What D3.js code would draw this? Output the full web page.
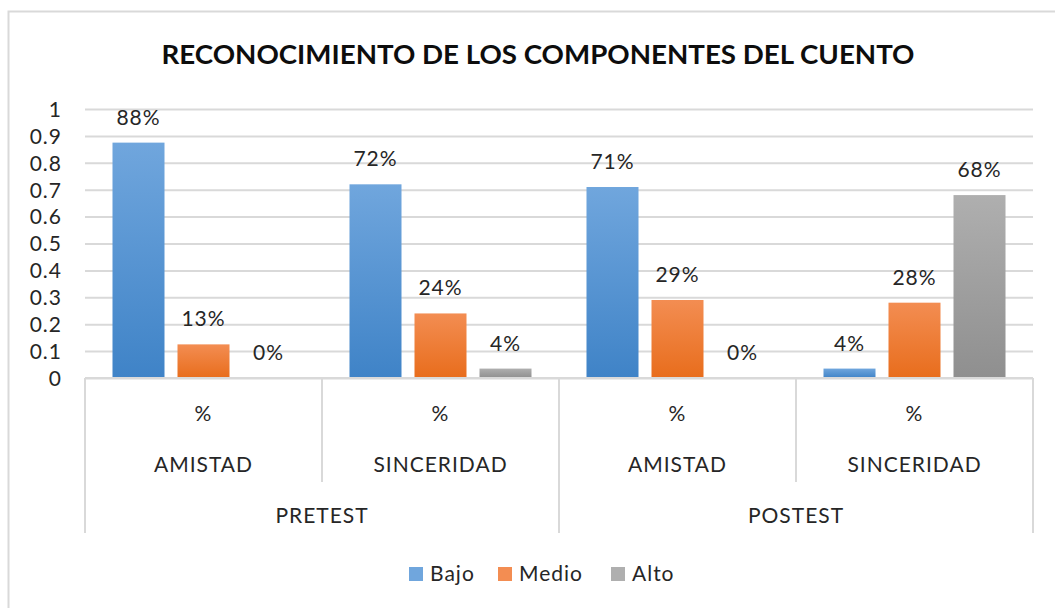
<!DOCTYPE html>
<html><head><meta charset="utf-8">
<script src="https://cdn.jsdelivr.net/npm/d3@7"></script>
<style>
body{margin:0;background:#fff;}
text{font-family:Lato,"Open Sans",sans-serif;fill:#262626;}
</style></head>
<body><svg id="c" width="1055" height="608"></svg>
<script>
const title = "RECONOCIMIENTO DE LOS COMPONENTES DEL CUENTO";
const phases = ["PRETEST","POSTEST"];
const components = ["AMISTAD","SINCERIDAD","AMISTAD","SINCERIDAD"];
const groupPhase = [0,0,1,1];
const unitLabel = "%";
const seriesNames = ["Bajo","Medio","Alto"];
const bajo  = [0.875, 0.72, 0.71, 0.035];
const medio = [0.125, 0.24, 0.29, 0.28];
const alto  = [0.0, 0.035, 0.0, 0.68];
const yTicks = [0,0.1,0.2,0.3,0.4,0.5,0.6,0.7,0.8,0.9,1];
const colors = [["#70a6dd","#3f83c7"],["#f38d52","#e86d1c"],["#afafaf","#8f8f8f"]];

const svg = d3.select("#c");
const L = 85, R = 1033, T = 109, B = 378;
const series = [bajo, medio, alto];
const groups = d3.range(components.length);
const FS = "21px", LS = "1px";

// frame
svg.append("rect").attr("x",8.5).attr("y",11.5).attr("width",1100).attr("height",700)
  .attr("fill","none").attr("stroke","#d9d9d9").attr("stroke-width",2);

svg.append("text").attr("x",538).attr("y",64).attr("text-anchor","middle")
  .style("font-size","27px").style("font-weight","bold").style("fill","#0d0d0d")
  .attr("textLength",753).attr("lengthAdjust","spacingAndGlyphs").text(title);

const y = d3.scaleLinear().domain([0,1]).range([B,T]);
const x0 = d3.scaleBand().domain(groups).range([L,R]);
const x1 = d3.scaleBand().domain(d3.range(3)).range([0,x0.bandwidth()]).paddingInner(0.2).paddingOuter(0.423);

// gradients
const defs = svg.append("defs");
colors.forEach((c,i)=>{
  const g = defs.append("linearGradient").attr("id","g"+i).attr("x1",0).attr("x2",0).attr("y1",0).attr("y2",1);
  g.append("stop").attr("offset","0%").attr("stop-color",c[0]);
  g.append("stop").attr("offset","100%").attr("stop-color",c[1]);
});

// grid
const grid = svg.append("g").attr("transform",`translate(${L},0)`)
  .call(d3.axisLeft(y).tickValues(yTicks).tickSize(-(R-L)).tickFormat(""));
grid.select(".domain").remove();
grid.selectAll("line").attr("stroke","#d9d9d9").attr("stroke-width",2);

// y axis labels
const ya = svg.append("g").attr("transform",`translate(62,0)`)
  .call(d3.axisLeft(y).tickValues(yTicks).tickSize(0).tickPadding(0).tickFormat(d3.format("")));
ya.select(".domain").remove();
ya.selectAll("text").style("font-size",FS).style("font-family","Lato, sans-serif")
  .style("letter-spacing",LS).attr("fill","#262626").attr("dy","0.35em");

// bars
series.forEach((vals,si)=>{
  svg.append("g").selectAll("rect").data(vals).join("rect")
    .attr("x",(d,i)=>x0(i)+x1(si)).attr("width",x1.bandwidth())
    .attr("y",d=>y(d)).attr("height",d=>B-y(d)).attr("fill",`url(#g${si})`);
  svg.append("g").selectAll("text").data(vals).join("text")
    .attr("x",(d,i)=>x0(i)+x1(si)+x1.bandwidth()/2).attr("y",d=>y(d)-18)
    .attr("text-anchor","middle").style("font-size",FS).style("letter-spacing",LS).text(d=>d3.format(".0%")(d));
});

// category axis
const ax = svg.append("g").attr("stroke","#d9d9d9").attr("stroke-width",2);
ax.append("line").attr("x1",L).attr("x2",R).attr("y1",B).attr("y2",B);
groups.forEach(i=>{
  const xb = x0(i);
  const outer = (i===0 || groupPhase[i]!==groupPhase[i-1]);
  ax.append("line").attr("x1",xb).attr("x2",xb).attr("y1",B).attr("y2",outer?533:482);
});
ax.append("line").attr("x1",R).attr("x2",R).attr("y1",B).attr("y2",533);

groups.forEach(i=>{
  const cx = x0(i)+x0.bandwidth()/2;
  svg.append("text").attr("x",cx).attr("y",421).attr("text-anchor","middle").style("font-size",FS).style("letter-spacing",LS).text(unitLabel);
  svg.append("text").attr("x",cx).attr("y",472).attr("text-anchor","middle").style("font-size",FS).style("letter-spacing",LS).text(components[i]);
});
phases.forEach((p,pi)=>{
  const idx = groups.filter(i=>groupPhase[i]===pi);
  const cx = (x0(idx[0]) + x0(idx[idx.length-1]) + x0.bandwidth())/2;
  svg.append("text").attr("x",cx).attr("y",523).attr("text-anchor","middle").style("font-size",FS).style("letter-spacing",LS).text(p);
});

// legend
const legX = [409,498,611];
seriesNames.forEach((n,i)=>{
  svg.append("rect").attr("x",legX[i]).attr("y",567).attr("width",14).attr("height",14).attr("fill",colors[i][0]);
  svg.append("text").attr("x",legX[i]+21).attr("y",581).style("font-size",FS).style("letter-spacing",LS).text(n);
});
</script></body></html>
